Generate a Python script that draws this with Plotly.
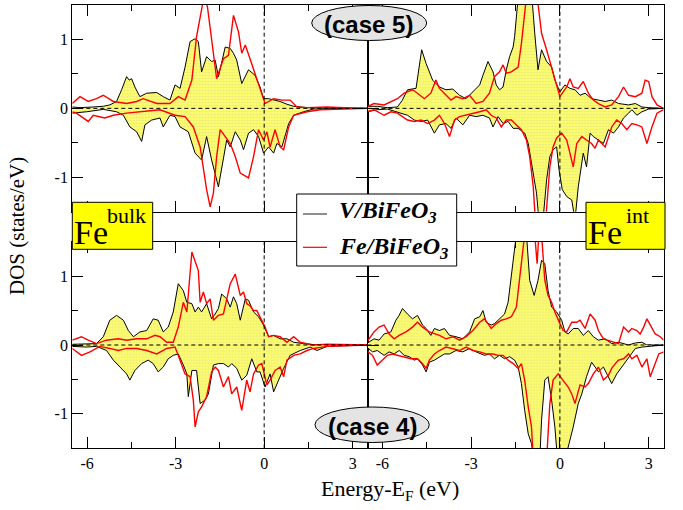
import plotly.graph_objects as go

# ---------------- data (energy in eV, DOS in states/eV) ----------------
# Top-left panel: Fe bulk, case 5
E_tl_vup = [-6.5,-6.24,-5.79,-5.45,-5.23,-5.0,-4.83,-4.66,-4.57,-4.49,-4.38,-4.21,-3.98,-3.64,-3.42,-3.19,-3.02,-2.85,-2.68,-2.51,-2.34,-2.23,-2.12,-1.95,-1.78,-1.66,-1.55,-1.32,-1.15,-1.04,-0.93,-0.76,-0.53,-0.31,-0.14,-0.02,0.15,0.37,0.54,0.77,1.0,1.45,1.9,3.0,3.5]
D_tl_vup = [0.02,0.01,0.02,0.03,0.05,0.10,0.27,0.46,0.41,0.43,0.31,0.17,0.22,0.23,0.17,0.12,0.34,0.29,0.60,0.97,1.01,0.97,0.53,0.75,0.68,0.70,0.46,0.89,0.87,0.80,0.70,0.36,0.56,0.48,0.31,0.14,0.14,0.12,0.10,0.06,0.03,0.01,0.01,0.005,0.0]
E_tl_vdn = [-6.5,-6.02,-5.45,-5.0,-4.77,-4.55,-4.32,-4.15,-4.04,-3.81,-3.53,-3.42,-3.19,-3.02,-2.85,-2.57,-2.34,-2.12,-1.95,-1.78,-1.55,-1.38,-1.27,-1.15,-0.98,-0.81,-0.70,-0.53,-0.36,-0.19,-0.02,0.15,0.32,0.43,0.60,0.83,1.0,1.33,1.67,2.13,3.5]
D_tl_vdn = [-0.07,-0.05,-0.015,-0.05,-0.10,-0.27,-0.34,-0.48,-0.24,-0.17,-0.14,-0.27,-0.10,-0.12,-0.27,-0.34,-0.65,-0.75,-0.41,-0.75,-1.14,-0.70,-0.46,-0.56,-0.34,-0.46,-0.60,-0.36,-0.31,-0.41,-0.65,-0.56,-0.65,-0.51,-0.56,-0.22,-0.10,-0.05,-0.01,-0.005,0.0]
E_tl_fup = [-6.5,-6.24,-5.96,-5.68,-5.45,-5.11,-4.66,-4.32,-4.10,-3.64,-3.19,-2.91,-2.68,-2.45,-2.29,-2.12,-2.04,-1.92,-1.78,-1.61,-1.38,-1.21,-1.04,-0.87,-0.76,-0.64,-0.48,-0.31,-0.14,0.03,0.32,0.60,0.88,1.11,1.45,2.13,2.69,3.5]
D_tl_fup = [0.07,0.17,0.10,0.14,0.19,0.10,0.07,0.10,0.14,0.07,0.07,0.17,0.12,0.41,1.04,1.47,1.62,1.47,0.99,0.43,0.72,0.77,1.35,1.11,0.80,0.92,0.72,0.51,0.27,0.07,0.14,0.12,0.12,0.02,0.01,0.02,0.01,0.0]
E_tl_fdn = [-6.5,-6.36,-5.96,-5.79,-5.40,-5.11,-4.66,-4.10,-3.53,-3.02,-2.68,-2.40,-2.17,-1.95,-1.83,-1.72,-1.61,-1.49,-1.32,-1.15,-0.98,-0.81,-0.53,-0.36,-0.19,-0.02,0.09,0.20,0.37,0.54,0.66,0.83,1.0,1.45,1.90,2.69,3.5]
D_tl_fdn = [-0.05,-0.07,-0.19,-0.10,-0.14,-0.10,-0.07,-0.05,-0.02,-0.10,-0.12,-0.27,-0.56,-1.18,-1.43,-1.23,-0.70,-0.31,-0.41,-0.51,-0.70,-0.94,-1.01,-0.70,-0.31,-0.46,-0.34,-0.56,-0.31,-0.56,-0.60,-0.27,-0.10,-0.05,-0.02,-0.01,0.0]

# Top-right panel: Fe interface, case 5
E_tr_vup = [-6.53,-6.17,-5.83,-5.49,-5.32,-5.15,-4.86,-4.67,-4.52,-4.30,-4.07,-3.85,-3.62,-3.39,-3.17,-2.94,-2.71,-2.60,-2.43,-2.26,-2.15,-2.04,-1.92,-1.81,-1.70,-1.58,-1.53,-1.44,-1.36,-0.96,-0.90,-0.85,-0.74,-0.62,-0.45,-0.28,-0.17,0.0,0.17,0.34,0.51,0.68,0.85,1.07,1.30,1.53,1.75,1.98,2.32,2.55,2.77,3.0,3.5]
D_tr_vup = [0.03,0.03,0.01,0.02,0.12,0.27,0.29,0.85,0.65,0.41,0.31,0.27,0.28,0.19,0.14,0.24,0.34,0.48,0.68,0.53,0.34,0.27,0.31,0.56,0.75,0.89,1.04,1.47,1.7,1.7,1.33,1.09,0.56,0.85,0.68,0.60,0.41,0.24,0.34,0.29,0.27,0.19,0.22,0.14,0.12,0.10,0.12,0.07,0.05,0.07,0.02,0.01,0.0]
E_tr_vdn = [-6.53,-6.17,-5.83,-5.49,-5.15,-4.92,-4.69,-4.47,-4.24,-4.07,-3.85,-3.68,-3.51,-3.28,-3.05,-2.83,-2.60,-2.38,-2.26,-2.09,-1.92,-1.75,-1.58,-1.41,-1.19,-1.07,-0.90,-0.79,-0.71,-0.57,-0.45,-0.34,-0.23,-0.11,-0.03,0.08,0.23,0.40,0.51,0.62,0.79,0.90,1.02,1.13,1.30,1.47,1.64,1.81,1.98,2.15,2.32,2.43,2.60,2.77,3.0,3.5]
D_tr_vdn = [-0.05,-0.02,-0.01,-0.05,-0.10,-0.17,-0.19,-0.17,-0.36,-0.24,-0.22,-0.29,-0.14,-0.24,-0.10,-0.12,-0.10,-0.14,-0.27,-0.12,-0.22,-0.19,-0.29,-0.29,-0.36,-0.51,-0.94,-1.23,-1.62,-1.62,-1.04,-0.70,-0.60,-0.56,-0.89,-1.18,-1.28,-1.33,-1.62,-1.14,-0.65,-0.85,-0.36,-0.41,-0.46,-0.51,-0.31,-0.36,-0.27,-0.14,-0.07,-0.02,-0.10,-0.05,-0.01,0.0]
E_tr_fup = [-6.53,-6.28,-5.94,-5.49,-5.26,-4.98,-4.81,-4.58,-4.36,-4.19,-4.07,-3.85,-3.68,-3.51,-3.28,-3.05,-2.83,-2.60,-2.38,-2.21,-2.04,-1.92,-1.81,-1.64,-1.41,-1.30,-1.19,-1.11,-0.79,-0.71,-0.62,-0.45,-0.28,-0.17,0.0,0.11,0.23,0.34,0.45,0.62,0.79,0.96,1.13,1.30,1.53,1.75,1.98,2.15,2.32,2.55,2.77,2.88,3.0,3.11,3.28,3.5]
D_tr_fup = [0.02,0.07,0.05,0.14,0.22,0.27,0.22,0.14,0.22,0.41,0.29,0.19,0.12,0.17,0.14,0.19,0.07,0.10,0.22,0.46,0.53,0.63,0.51,0.53,0.60,0.94,1.33,1.7,1.7,1.38,1.09,0.85,0.60,0.41,0.17,0.24,0.31,0.43,0.31,0.29,0.39,0.22,0.12,0.07,0.02,0.05,0.17,0.31,0.19,0.17,0.22,0.41,0.39,0.17,0.05,0.0]
E_tr_fdn = [-6.53,-6.28,-5.94,-5.71,-5.49,-5.15,-4.92,-4.69,-4.47,-4.24,-4.07,-3.90,-3.73,-3.56,-3.39,-3.17,-2.94,-2.71,-2.49,-2.32,-2.15,-1.98,-1.81,-1.64,-1.47,-1.30,-1.13,-1.02,-0.90,-0.83,-0.48,-0.34,-0.23,-0.11,0.06,0.23,0.34,0.45,0.57,0.74,0.90,1.07,1.19,1.30,1.53,1.75,1.92,2.09,2.26,2.43,2.60,2.77,2.94,3.11,3.28,3.5]
D_tr_fdn = [-0.05,-0.02,-0.10,-0.05,-0.07,-0.17,-0.19,-0.17,-0.22,-0.17,-0.10,-0.22,-0.41,-0.17,-0.12,-0.10,-0.07,-0.05,-0.02,-0.10,-0.14,-0.27,-0.17,-0.17,-0.24,-0.31,-0.46,-0.70,-1.14,-1.62,-1.62,-0.85,-0.56,-0.43,-0.36,-0.46,-0.65,-0.85,-0.51,-0.41,-0.46,-0.51,-0.58,-0.46,-0.56,-0.27,-0.17,-0.22,-0.31,-0.22,-0.24,-0.27,-0.51,-0.27,-0.07,-0.02]

# Bottom-left panel: Fe bulk, case 4
E_bl_vup = [-6.5,-6.02,-5.68,-5.45,-5.23,-5.0,-4.77,-4.60,-4.43,-4.21,-3.98,-3.76,-3.59,-3.42,-3.25,-3.08,-2.91,-2.74,-2.62,-2.45,-2.34,-2.23,-2.12,-1.95,-1.78,-1.66,-1.55,-1.44,-1.27,-1.15,-1.04,-0.93,-0.81,-0.64,-0.53,-0.36,-0.19,-0.02,0.15,0.32,0.54,0.77,1.0,1.33,1.67,2.13,2.69,3.5]
D_bl_vup = [0.01,0.02,0.02,0.12,0.36,0.43,0.36,0.21,0.12,0.19,0.21,0.38,0.36,0.19,0.26,0.48,0.89,0.79,0.62,0.60,0.48,0.55,0.48,0.60,0.38,0.45,0.53,0.74,0.67,0.55,0.70,0.60,0.36,0.67,0.65,0.48,0.41,0.29,0.12,0.14,0.09,0.09,0.04,0.02,0.005,0.005,0.0,0.0]
E_bl_vdn = [-6.5,-6.02,-5.68,-5.34,-5.11,-4.89,-4.66,-4.55,-4.38,-4.15,-3.93,-3.76,-3.59,-3.42,-3.25,-3.08,-2.91,-2.74,-2.62,-2.57,-2.45,-2.29,-2.17,-2.0,-1.89,-1.72,-1.55,-1.38,-1.21,-1.10,-0.93,-0.76,-0.59,-0.42,-0.25,-0.14,0.03,0.20,0.32,0.49,0.66,0.88,1.22,1.56,1.79,2.13,2.69,3.5]
D_bl_vdn = [-0.02,-0.03,-0.02,-0.08,-0.22,-0.32,-0.42,-0.51,-0.37,-0.27,-0.22,-0.27,-0.39,-0.32,-0.20,-0.15,-0.13,-0.29,-0.42,-0.75,-0.37,-0.37,-0.85,-0.80,-0.71,-0.29,-0.27,-0.27,-0.32,-0.27,-0.34,-0.51,-0.44,-0.20,-0.39,-0.39,-0.61,-0.42,-0.68,-0.51,-0.34,-0.15,-0.08,-0.03,-0.08,-0.02,-0.01,0.0]
E_bl_fup = [-6.5,-6.19,-5.96,-5.68,-5.34,-4.94,-4.66,-4.32,-3.98,-3.70,-3.53,-3.30,-3.08,-2.91,-2.74,-2.62,-2.45,-2.34,-2.23,-2.17,-2.06,-1.95,-1.83,-1.72,-1.55,-1.38,-1.27,-1.15,-0.98,-0.81,-0.70,-0.59,-0.48,-0.36,-0.25,-0.14,0.03,0.15,0.32,0.54,0.77,1.0,1.22,1.45,1.67,2.13,2.69,3.5]
D_bl_fup = [0.07,0.12,0.07,0.02,0.07,0.09,0.07,0.09,0.09,0.14,0.12,0.04,0.04,0.26,0.62,0.48,1.35,1.23,1.08,0.62,0.77,0.60,0.67,0.36,0.43,0.45,0.67,0.89,1.03,0.72,0.77,0.60,0.57,0.50,0.50,0.41,0.26,0.12,0.14,0.12,0.04,0.12,0.04,0.02,0.0,0.01,0.005,0.0]
E_bl_fdn = [-6.5,-6.19,-5.90,-5.57,-5.23,-4.94,-4.66,-4.32,-3.98,-3.64,-3.30,-3.02,-2.85,-2.68,-2.51,-2.40,-2.34,-2.23,-2.12,-1.95,-1.78,-1.66,-1.55,-1.38,-1.21,-1.10,-0.93,-0.76,-0.59,-0.48,-0.36,-0.19,-0.08,0.09,0.20,0.37,0.54,0.66,0.77,1.0,1.22,1.45,1.67,2.13,2.69,3.5]
D_bl_fdn = [-0.05,-0.15,-0.10,-0.02,-0.05,-0.08,-0.05,-0.05,-0.08,-0.13,-0.05,-0.03,-0.22,-0.42,-0.46,-0.80,-1.19,-0.97,-0.90,-0.75,-0.39,-0.32,-0.37,-0.61,-0.46,-0.71,-0.61,-0.95,-0.51,-0.68,-0.42,-0.29,-0.27,-0.58,-0.51,-0.37,-0.32,-0.46,-0.22,-0.15,-0.13,-0.08,-0.05,-0.02,-0.01,0.0]

# Bottom-right panel: Fe interface, case 4
E_br_vup = [-6.53,-6.28,-6.11,-5.94,-5.71,-5.54,-5.43,-5.32,-5.15,-4.98,-4.81,-4.64,-4.52,-4.36,-4.24,-4.07,-3.90,-3.73,-3.51,-3.28,-3.05,-2.88,-2.71,-2.60,-2.49,-2.32,-2.21,-2.04,-1.87,-1.75,-1.64,-1.53,-1.47,-1.13,-1.02,-0.87,-0.74,-0.62,-0.51,-0.40,-0.28,-0.11,0.06,0.17,0.28,0.45,0.62,0.79,0.96,1.13,1.30,1.53,1.75,1.98,2.32,2.55,2.77,2.94,3.5]
D_br_vup = [0.02,0.09,0.07,0.16,0.19,0.36,0.43,0.53,0.45,0.38,0.43,0.29,0.24,0.14,0.24,0.21,0.24,0.14,0.12,0.09,0.19,0.38,0.41,0.50,0.33,0.29,0.31,0.38,0.45,0.62,0.99,1.37,1.61,1.61,0.94,0.72,0.94,1.23,1.18,0.79,0.55,0.48,0.36,0.19,0.16,0.24,0.24,0.14,0.21,0.12,0.07,0.09,0.02,0.04,0.0,0.03,0.04,0.0,0.0]
E_br_vdn = [-6.53,-6.33,-6.17,-5.94,-5.77,-5.60,-5.43,-5.26,-5.09,-4.92,-4.81,-4.64,-4.52,-4.41,-4.24,-4.07,-3.90,-3.73,-3.51,-3.28,-3.05,-2.83,-2.66,-2.55,-2.38,-2.21,-2.04,-1.87,-1.70,-1.53,-1.41,-1.30,-1.19,-1.07,-0.96,-0.88,-0.68,-0.62,-0.51,-0.40,-0.28,-0.17,-0.08,0.17,0.31,0.45,0.62,0.74,0.90,1.07,1.19,1.30,1.47,1.58,1.75,1.92,2.09,2.32,2.55,2.77,3.0,3.5]
D_br_vdn = [-0.03,-0.10,-0.08,-0.15,-0.10,-0.13,-0.08,-0.15,-0.17,-0.22,-0.20,-0.29,-0.39,-0.25,-0.22,-0.17,-0.13,-0.13,-0.08,-0.10,-0.05,-0.10,-0.13,-0.15,-0.13,-0.20,-0.15,-0.20,-0.17,-0.22,-0.32,-0.56,-0.95,-1.29,-1.43,-1.67,-1.67,-1.09,-0.51,-0.46,-0.80,-1.19,-1.67,-1.67,-1.43,-1.19,-0.85,-0.71,-0.46,-0.25,-0.32,-0.39,-0.32,-0.42,-0.56,-0.42,-0.32,-0.17,-0.05,-0.03,-0.02,0.0]
E_br_fup = [-6.53,-6.28,-6.11,-5.94,-5.77,-5.60,-5.43,-5.20,-4.98,-4.81,-4.64,-4.41,-4.07,-3.85,-3.62,-3.39,-3.17,-2.94,-2.71,-2.55,-2.43,-2.32,-2.15,-1.98,-1.81,-1.64,-1.47,-1.36,-1.24,-1.19,-0.85,-0.77,-0.71,-0.62,-0.51,-0.40,-0.28,-0.17,0.0,0.11,0.23,0.40,0.57,0.68,0.85,1.02,1.19,1.30,1.47,1.64,1.87,1.98,2.15,2.32,2.43,2.60,2.71,2.83,2.94,3.05,3.22,3.39,3.51]
D_br_fup = [0.04,0.19,0.26,0.29,0.16,0.09,0.14,0.19,0.26,0.33,0.26,0.19,0.14,0.09,0.12,0.07,0.12,0.21,0.33,0.38,0.31,0.24,0.31,0.36,0.38,0.41,0.55,0.94,1.37,1.61,1.61,1.18,1.61,1.61,0.94,0.72,0.62,0.48,0.31,0.21,0.19,0.33,0.33,0.36,0.24,0.45,0.36,0.21,0.09,0.07,0.04,0.02,0.26,0.19,0.24,0.21,0.16,0.26,0.38,0.29,0.16,0.12,0.07]
E_br_fdn = [-6.53,-6.33,-6.17,-6.0,-5.83,-5.66,-5.49,-5.26,-5.03,-4.81,-4.64,-4.52,-4.41,-4.24,-4.07,-3.85,-3.62,-3.39,-3.17,-2.94,-2.71,-2.49,-2.26,-2.09,-1.92,-1.75,-1.58,-1.41,-1.30,-1.19,-1.07,-0.96,-0.90,-0.45,-0.34,-0.23,-0.06,0.11,0.28,0.40,0.51,0.68,0.85,0.96,1.13,1.30,1.47,1.64,1.75,1.87,1.98,2.15,2.32,2.43,2.60,2.77,2.94,3.05,3.22,3.34,3.51]
D_br_fdn = [-0.08,-0.15,-0.29,-0.22,-0.15,-0.13,-0.15,-0.17,-0.20,-0.20,-0.27,-0.34,-0.22,-0.13,-0.08,-0.03,-0.05,-0.08,-0.03,-0.08,-0.10,-0.13,-0.13,-0.15,-0.15,-0.22,-0.27,-0.34,-0.27,-0.51,-0.90,-1.19,-1.67,-1.67,-0.85,-0.51,-0.42,-0.51,-0.61,-0.71,-0.85,-0.58,-0.61,-0.56,-0.42,-0.32,-0.51,-0.44,-0.34,-0.27,-0.22,-0.20,-0.13,-0.20,-0.15,-0.32,-0.20,-0.46,-0.27,-0.13,-0.10]

# tick labels
X_TICKS = [-6, -3, 0, 3]
X_TICKTEXT = ["-6", "-3", "0", "3"]
X_MINOR = [-4.5, -1.5, 1.5]
Y_TICKS = [-1, 0, 1]
Y_TICKTEXT = ["-1", "0", "1"]
Y_MINOR = [-0.5, 0.5]
SERIES_NAMES = ["V/BiFeO<sub>3</sub>", "Fe/BiFeO<sub>3</sub>"]

# ---------------- figure ----------------
W, H = 683, 510
def px(x):
    return x / W
def py(y):
    return 1 - y / H

fig = go.Figure()

panels = [
    ("x", "y", E_tl_vup, D_tl_vup, E_tl_vdn, D_tl_vdn, E_tl_fup, D_tl_fup, E_tl_fdn, D_tl_fdn),
    ("x2", "y2", E_tr_vup, D_tr_vup, E_tr_vdn, D_tr_vdn, E_tr_fup, D_tr_fup, E_tr_fdn, D_tr_fdn),
    ("x3", "y3", E_bl_vup, D_bl_vup, E_bl_vdn, D_bl_vdn, E_bl_fup, D_bl_fup, E_bl_fdn, D_bl_fdn),
    ("x4", "y4", E_br_vup, D_br_vup, E_br_vdn, D_br_vdn, E_br_fup, D_br_fup, E_br_fdn, D_br_fdn),
]

fillpat = dict(shape=".", bgcolor="#ffff66", fgcolor="#d0d0a8", size=3, solidity=0.4)

for xa, ya, e1, d1, e2, d2, e3, d3, e4, d4 in panels:
    for e, d in ((e1, d1), (e2, d2)):
        fig.add_trace(go.Scatter(x=e, y=d, xaxis=xa, yaxis=ya, mode="lines",
                                 line=dict(color="black", width=1),
                                 fill="tozeroy", fillcolor="#ffff66", fillpattern=fillpat,
                                 showlegend=False, hoverinfo="skip"))
    for e, d in ((e3, d3), (e4, d4)):
        fig.add_trace(go.Scatter(x=e, y=d, xaxis=xa, yaxis=ya, mode="lines",
                                 line=dict(color="#ff0000", width=1.4),
                                 showlegend=False, hoverinfo="skip"))

tickfont = dict(family="Liberation Serif", size=16, color="black")
xdom_l = [px(72.3), px(367.5)]
xdom_r = [px(367.5), px(663.5)]
ydom_t = [py(211.7), py(5)]
ydom_b = [py(448.3), py(241.7)]

def xaxis_cfg(domain, anchor, labels):
    return dict(domain=domain, anchor=anchor, range=[-6.5, 3.5], showgrid=False, zeroline=False,
                showline=True, linecolor="black", linewidth=1.3, mirror="ticks",
                ticks="inside", ticklen=11, tickwidth=1.3, tickcolor="black",
                tickmode="array", tickvals=X_TICKS, ticktext=X_TICKTEXT,
                showticklabels=labels, tickfont=tickfont,
                minor=dict(ticks="inside", ticklen=6, tickwidth=1.3, tickcolor="black",
                           tickmode="array", tickvals=X_MINOR, showgrid=False))

def yaxis_cfg(domain, anchor, labels):
    return dict(domain=domain, anchor=anchor, range=[-1.5, 1.5], showgrid=False, zeroline=False,
                showline=True, linecolor="black", linewidth=1.3, mirror="ticks",
                ticks="inside", ticklen=11, tickwidth=1.3, tickcolor="black",
                tickmode="array", tickvals=Y_TICKS, ticktext=Y_TICKTEXT,
                showticklabels=labels, tickfont=tickfont,
                minor=dict(ticks="inside", ticklen=6, tickwidth=1.3, tickcolor="black",
                           tickmode="array", tickvals=Y_MINOR, showgrid=False))

fig.update_layout(
    width=W, height=H, autosize=False,
    margin=dict(l=0, r=0, t=0, b=0, autoexpand=False),
    paper_bgcolor="white", plot_bgcolor="white",
    showlegend=False,
    xaxis=xaxis_cfg(xdom_l, "y", False),
    xaxis2=xaxis_cfg(xdom_r, "y2", False),
    xaxis3=xaxis_cfg(xdom_l, "y3", True),
    xaxis4=xaxis_cfg(xdom_r, "y4", True),
    yaxis=yaxis_cfg(ydom_t, "x", True),
    yaxis2=yaxis_cfg(ydom_t, "x2", False),
    yaxis3=yaxis_cfg(ydom_b, "x3", True),
    yaxis4=yaxis_cfg(ydom_b, "x4", False),
)

shapes = []
for xa, ya in (("x", "y"), ("x2", "y2"), ("x3", "y3"), ("x4", "y4")):
    shapes.append(dict(type="line", xref=xa, yref=ya + " domain", x0=0, x1=0, y0=0, y1=1,
                       line=dict(color="black", width=1, dash="4px,3px"), layer="above"))
    shapes.append(dict(type="line", xref=xa + " domain", yref=ya, x0=0, x1=1, y0=0, y1=0,
                       line=dict(color="black", width=1, dash="4px,3px"), layer="above"))

# Fe label boxes
shapes.append(dict(type="rect", xref="paper", yref="paper", x0=px(72.3), x1=px(152.7), y0=py(249.3), y1=py(202.3),
                   fillcolor="#ffff00", line=dict(color="black", width=1), layer="above"))
shapes.append(dict(type="rect", xref="paper", yref="paper", x0=px(586), x1=px(665), y0=py(249.3), y1=py(202.3),
                   fillcolor="#ffff00", line=dict(color="black", width=1), layer="above"))
# legend box
shapes.append(dict(type="rect", xref="paper", yref="paper", x0=px(296.7), x1=px(456.7), y0=py(266), y1=py(194),
                   fillcolor="white", line=dict(color="black", width=1), layer="above"))
shapes.append(dict(type="line", xref="paper", yref="paper", x0=px(303), x1=px(327), y0=py(214), y1=py(214),
                   line=dict(color="#444444", width=1.2), layer="above"))
shapes.append(dict(type="line", xref="paper", yref="paper", x0=px(303), x1=px(327), y0=py(247.3), y1=py(247.3),
                   line=dict(color="#ff0000", width=1.2), layer="above"))
# case ellipses
shapes.append(dict(type="circle", xref="paper", yref="paper", x0=px(311.7), x1=px(426.7), y0=py(40.5), y1=py(5.5),
                   fillcolor="#e4e4e4", line=dict(color="black", width=1), layer="above"))
shapes.append(dict(type="circle", xref="paper", yref="paper", x0=px(315), x1=px(429.3), y0=py(442.5), y1=py(407),
                   fillcolor="#e4e4e4", line=dict(color="black", width=1), layer="above"))
fig.update_layout(shapes=shapes)

serif = "Liberation Serif"
ann = []
def add_text(text, x, y, size, family=serif, xanchor="center", yanchor="middle", angle=0):
    ann.append(dict(text=text, x=px(x), y=py(y), xref="paper", yref="paper", showarrow=False,
                    xanchor=xanchor, yanchor=yanchor, textangle=angle,
                    font=dict(family=family, size=size, color="black")))

add_text("Fe", 72, 232.5, 34, xanchor="left")
add_text("bulk", 105, 215.5, 22, xanchor="left")
add_text("Fe", 586, 232.5, 34, xanchor="left")
add_text("int", 624, 215.5, 22, xanchor="left")
add_text("<b><i>" + SERIES_NAMES[0] + "</i></b>", 337, 212, 24, xanchor="left")
add_text("<b><i>" + SERIES_NAMES[1] + "</i></b>", 337, 248, 24, xanchor="left")
add_text("<b>(case 5)</b>", 368, 24, 24, family="Liberation Sans")
add_text("<b>(case 4)</b>", 372, 426, 24, family="Liberation Sans")
add_text("DOS (states/eV)", 17, 226, 21, angle=-90)
add_text("Energy-E<sub>F</sub> (eV)", 390, 490, 22)
fig.update_layout(annotations=ann)

fig.write_html("out.html", config={"displayModeBar": False},
               post_script="document.body.style.margin='0px';document.body.style.overflow='hidden';")
